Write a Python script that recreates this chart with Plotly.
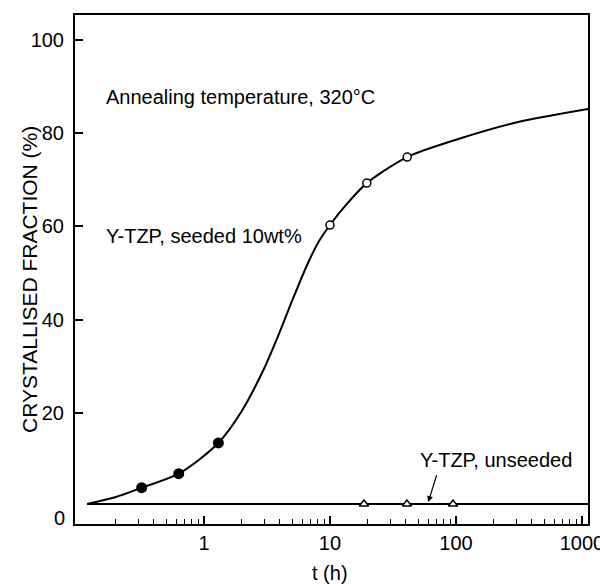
import plotly.graph_objects as go
import numpy as np

# Seeded: filled points (early) and open points (later)
seeded_filled_t = [0.32, 0.63, 1.3]
seeded_filled_y = [3.9, 6.9, 13.5]
seeded_open_t = [10, 19.6, 41]
seeded_open_y = [60.3, 69.3, 74.9]

# Unseeded points
unseeded_t = [18.6, 40.8, 94.7]
unseeded_y = [0.4, 0.4, 0.4]

# Fitted curve
curve_t = [0.118, 0.2, 0.32, 0.63, 1.3, 2.0, 3.0, 4.0, 5.0, 6.5, 8.0, 10, 14, 19.6, 41, 100, 300, 1120]
curve_y = [0.4, 1.9, 3.9, 6.9, 13.5, 20.4, 29.5, 37.4, 44.0, 51.4, 56.4, 60.3, 65.2, 69.3, 74.9, 78.6, 82.3, 85.2]

unseeded_line_t = [0.118, 1120]
unseeded_line_y = [0.4, 0.4]

x_major = [1, 10, 100, 1000]
x_major_text = ["1", "10", "100", "1000"]
y_ticks = [20, 40, 60, 80, 100]
y_tick_text = ["20", "40", "60", "80", "100"]

FONT = "Liberation Sans, Arial, Helvetica, sans-serif"
FS = 20

minor_vals = []
for d in [0.1, 1, 10, 100]:
    for k in range(2, 10):
        minor_vals.append(k * d)

fig = go.Figure()
fig.add_trace(go.Scatter(x=curve_t, y=curve_y, mode="lines", line=dict(color="black", width=2, shape="spline", smoothing=0.8), showlegend=False))
fig.add_trace(go.Scatter(x=unseeded_line_t, y=unseeded_line_y, mode="lines", line=dict(color="black", width=2), showlegend=False))
fig.add_trace(go.Scatter(x=seeded_filled_t, y=seeded_filled_y, mode="markers", marker=dict(symbol="circle", size=11, color="black"), showlegend=False))
fig.add_trace(go.Scatter(x=seeded_open_t, y=seeded_open_y, mode="markers", marker=dict(symbol="circle", size=8, color="white", line=dict(color="black", width=1.5)), showlegend=False))
fig.add_trace(go.Scatter(x=unseeded_t, y=unseeded_y, mode="markers", marker=dict(symbol="triangle-up", size=8, color="white", line=dict(color="black", width=1.5)), showlegend=False))

fig.add_annotation(x=-0.794, y=87.8, xref="x", yref="y", text="Annealing temperature, 320°C", showarrow=False, xanchor="left", font=dict(size=FS, color="black", family=FONT))
fig.add_annotation(x=-0.794, y=57.9, xref="x", yref="y", text="Y-TZP, seeded 10wt%", showarrow=False, xanchor="left", font=dict(size=FS, color="black", family=FONT))
fig.add_annotation(x=2.94, y=9.9, xref="x", yref="y", text="Y-TZP, unseeded", showarrow=False, xanchor="right", font=dict(size=FS, color="black", family=FONT))
fig.add_annotation(x=1.78, y=0.8, ax=1.85, ay=6.9, xref="x", yref="y", axref="x", ayref="y", text="", showarrow=True, arrowhead=2, arrowsize=1, arrowwidth=1.2, arrowcolor="black")

# axis "0" label, titles
fig.add_annotation(x=0, y=-2.6, xref="paper", yref="y", text="0", showarrow=False, xanchor="right", yanchor="middle", xshift=-8, font=dict(size=FS, color="black", family=FONT))
fig.add_annotation(x=-0.09, y=0.481, xref="paper", yref="paper", text="CRYSTALLISED FRACTION (%)", textangle=-90, showarrow=False, xanchor="center", yanchor="middle", font=dict(size=21, color="black", family=FONT))
fig.add_annotation(x=np.log10(10), y=-0.096, xref="x", yref="paper", text="t (h)", showarrow=False, xanchor="center", yanchor="middle", font=dict(size=FS, color="black", family=FONT))

fig.update_xaxes(type="log", range=[-1.024, 3.048], tickvals=x_major, ticktext=x_major_text,
                 ticks="inside", ticklen=8, tickwidth=1.5, tickcolor="black",
                 minor=dict(tickvals=minor_vals, ticks="inside", ticklen=5, tickwidth=1.2, tickcolor="black"),
                 showline=True, linecolor="black", linewidth=2, mirror=True, showgrid=False, zeroline=False,
                 tickfont=dict(size=FS, color="black", family=FONT), automargin=False, ticklabeloverflow="allow")
fig.update_yaxes(range=[-3.9, 105.4], tickvals=y_ticks, ticktext=y_tick_text,
                 ticks="inside", ticklen=8, tickwidth=1.5, tickcolor="black",
                 showline=True, linecolor="black", linewidth=2, mirror=True, showgrid=False, zeroline=False,
                 tickfont=dict(size=FS, color="black", family=FONT), ticklabelstandoff=5, automargin=False)
fig.update_layout(width=600, height=576, margin=dict(l=67, r=20, t=7, b=60),
                  plot_bgcolor="white", paper_bgcolor="white")
fig.write_html("out.html")
